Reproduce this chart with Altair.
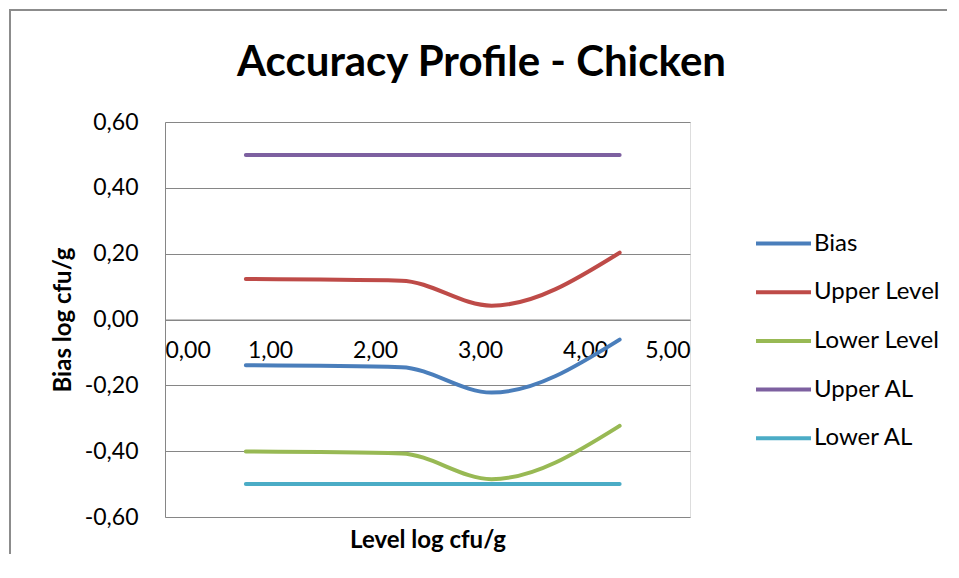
import altair as alt
import pandas as pd

# ---- data ----
levels = [0.77, 2.25, 3.11, 4.33]
bias = [-0.139, -0.145, -0.222, -0.061]
upper_level = [0.123, 0.118, 0.042, 0.203]
lower_level = [-0.401, -0.407, -0.485, -0.323]
upper_al = [0.50, 0.50, 0.50, 0.50]
lower_al = [-0.50, -0.50, -0.50, -0.50]

series_names = ["Bias", "Upper Level", "Lower Level", "Upper AL", "Lower AL"]
series_values = [bias, upper_level, lower_level, upper_al, lower_al]
series_colors = ["#4A7EBB", "#BE4B48", "#98B954", "#7D60A0", "#4BACC6"]

y_ticks = [-0.6, -0.4, -0.2, 0.0, 0.2, 0.4, 0.6]
x_ticks = [0, 1, 2, 3, 4, 5]

rows = []
for name, vals in zip(series_names, series_values):
    for x, y in zip(levels, vals):
        rows.append({"series": name, "level": x, "value": y})
df = pd.DataFrame(rows)

FONT = "Lato"
GRID = "#868686"
comma_fmt = "(datum.value < 0 ? '-' : '') + replace(format(abs(datum.value), '.2f'), '.', ',')"

lines = alt.Chart(df).mark_line(strokeWidth=4, strokeCap="round", interpolate="monotone").encode(
    x=alt.X("level:Q",
            scale=alt.Scale(domain=[0, 5], nice=False),
            axis=alt.Axis(values=x_ticks, labelExpr=comma_fmt, grid=False, ticks=False,
                          domainColor=GRID, domainWidth=1, offset=-197.5,
                          labelFont=FONT, labelFontSize=23, labelColor="#000000", labelPadding=20,
                          title="Level log cfu/g", titleFont=FONT, titleFontSize=24,
                          titleFontWeight="bold", titleColor="#000000",
                          titleBaseline="alphabetic", titleY=228)),
    y=alt.Y("value:Q",
            scale=alt.Scale(domain=[-0.6, 0.6], nice=False),
            axis=alt.Axis(values=y_ticks, labelExpr=comma_fmt, grid=True, gridColor=GRID,
                          gridWidth=1, ticks=False, domainColor=GRID, domainWidth=1,
                          labelFont=FONT, labelFontSize=23, labelColor="#000000", labelPadding=27,
                          title="Bias log cfu/g", titleFont=FONT, titleFontSize=24,
                          titleFontWeight="bold", titleColor="#000000",
                          titleBaseline="alphabetic", titleX=-95)),
    color=alt.Color("series:N",
                    scale=alt.Scale(domain=series_names, range=series_colors),
                    sort=series_names,
                    legend=alt.Legend(title=None, orient="none", legendX=589, legendY=92,
                                      symbolType="stroke", symbolStrokeWidth=4, symbolSize=3025,
                                      labelFont=FONT, labelFontSize=24, labelColor="#000000",
                                      labelOffset=1, rowPadding=6.7)),
)

# outer chart-area frame: thin filled bars along its top and left edges
frame_src = pd.DataFrame({"edge": ["frame"]})
frame_top = alt.Chart(frame_src).mark_rect(color="#8C8C8C", clip=False).encode(
    x=alt.value(-156), x2=alt.value(782), y=alt.value(-113), y2=alt.value(-111))
frame_left = alt.Chart(frame_src).mark_rect(color="#8C8C8C", clip=False).encode(
    x=alt.value(-156), x2=alt.value(-154), y=alt.value(-113), y2=alt.value(432))

chart = alt.layer(frame_top, frame_left, lines).properties(
    width=525, height=395,
    title=alt.TitleParams("Accuracy Profile - Chicken", font=FONT, fontSize=42,
                          fontWeight="bold", color="#000000", anchor="middle", dx=54, offset=-76),
    autosize=alt.AutoSizeParams(type="none"),
    padding={"left": 157, "top": 114, "right": 259, "bottom": 46},
).configure_view(stroke=None).configure(background="#FFFFFF")

chart.save("out.html", embed_options={"renderer": "svg", "actions": False})
